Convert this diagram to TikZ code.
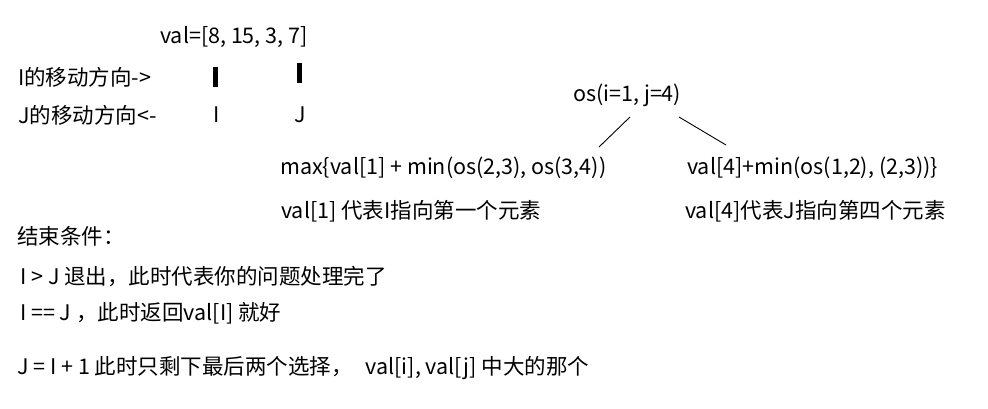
\documentclass[tikz,border=0pt]{standalone}
\usepackage{fontspec}
\setmainfont{Noto Sans CJK SC}
\begin{document}
\begin{tikzpicture}[x=1pt,y=-1pt,
  txt/.style={anchor=west,inner sep=0pt,font=\fontsize{21.5}{24}\selectfont},
  bar/.style={fill=black,draw=none},
  edge/.style={draw=black,line width=0.9pt}]
\useasboundingbox[fill=white] (0,0) rectangle (988,408);
% top left
\node[txt] (val) at (160,37) {val=[8, 15, 3, 7]};
\node[txt] (idir) at (18,77) {I的移动方向->};
\node[txt] (jdir) at (18,115) {J的移动方向<-};
\fill[bar] (213,67) rectangle (218,87);
\fill[bar] (297,63) rectangle (302,83);
\node[txt] (ilab) at (213,115) {I};
\node[txt] (jlab) at (294,115) {J};
% tree
\node[txt] (root) at (573,95) {os(i=1, j=4)};
\coordinate (l1a) at (630,117);
\coordinate (l1b) at (599,147);
\coordinate (l2a) at (679,117);
\coordinate (l2b) at (726,145);
\draw[edge] (l1a) -- (l1b);
\draw[edge] (l2a) -- (l2b);
\node[txt] (left) at (280,168) {max\{val[1] + min(os(2,3), os(3,4))};
\node[txt] (leftc) at (281,211) {val[1] 代表I指向第一个元素};
\node[txt] (right) at (687,168) {val[4]+min(os(1,2), (2,3))\}};
\node[txt] (rightc) at (685,211) {val[4]代表J指向第四个元素};
% conditions
\node[txt] (cond) at (17,236) {结束条件：};
\node[txt] (c1) at (20,277) {I > J 退出，此时代表你的问题处理完了};
\node[txt] (c2) at (20,313) {I == J ，此时返回val[I] 就好};
\node[txt] (c3) at (17,368) {J = I + 1 此时只剩下最后两个选择，\hspace{8pt} val[i], val[j] 中大的那个};
\end{tikzpicture}
\end{document}
